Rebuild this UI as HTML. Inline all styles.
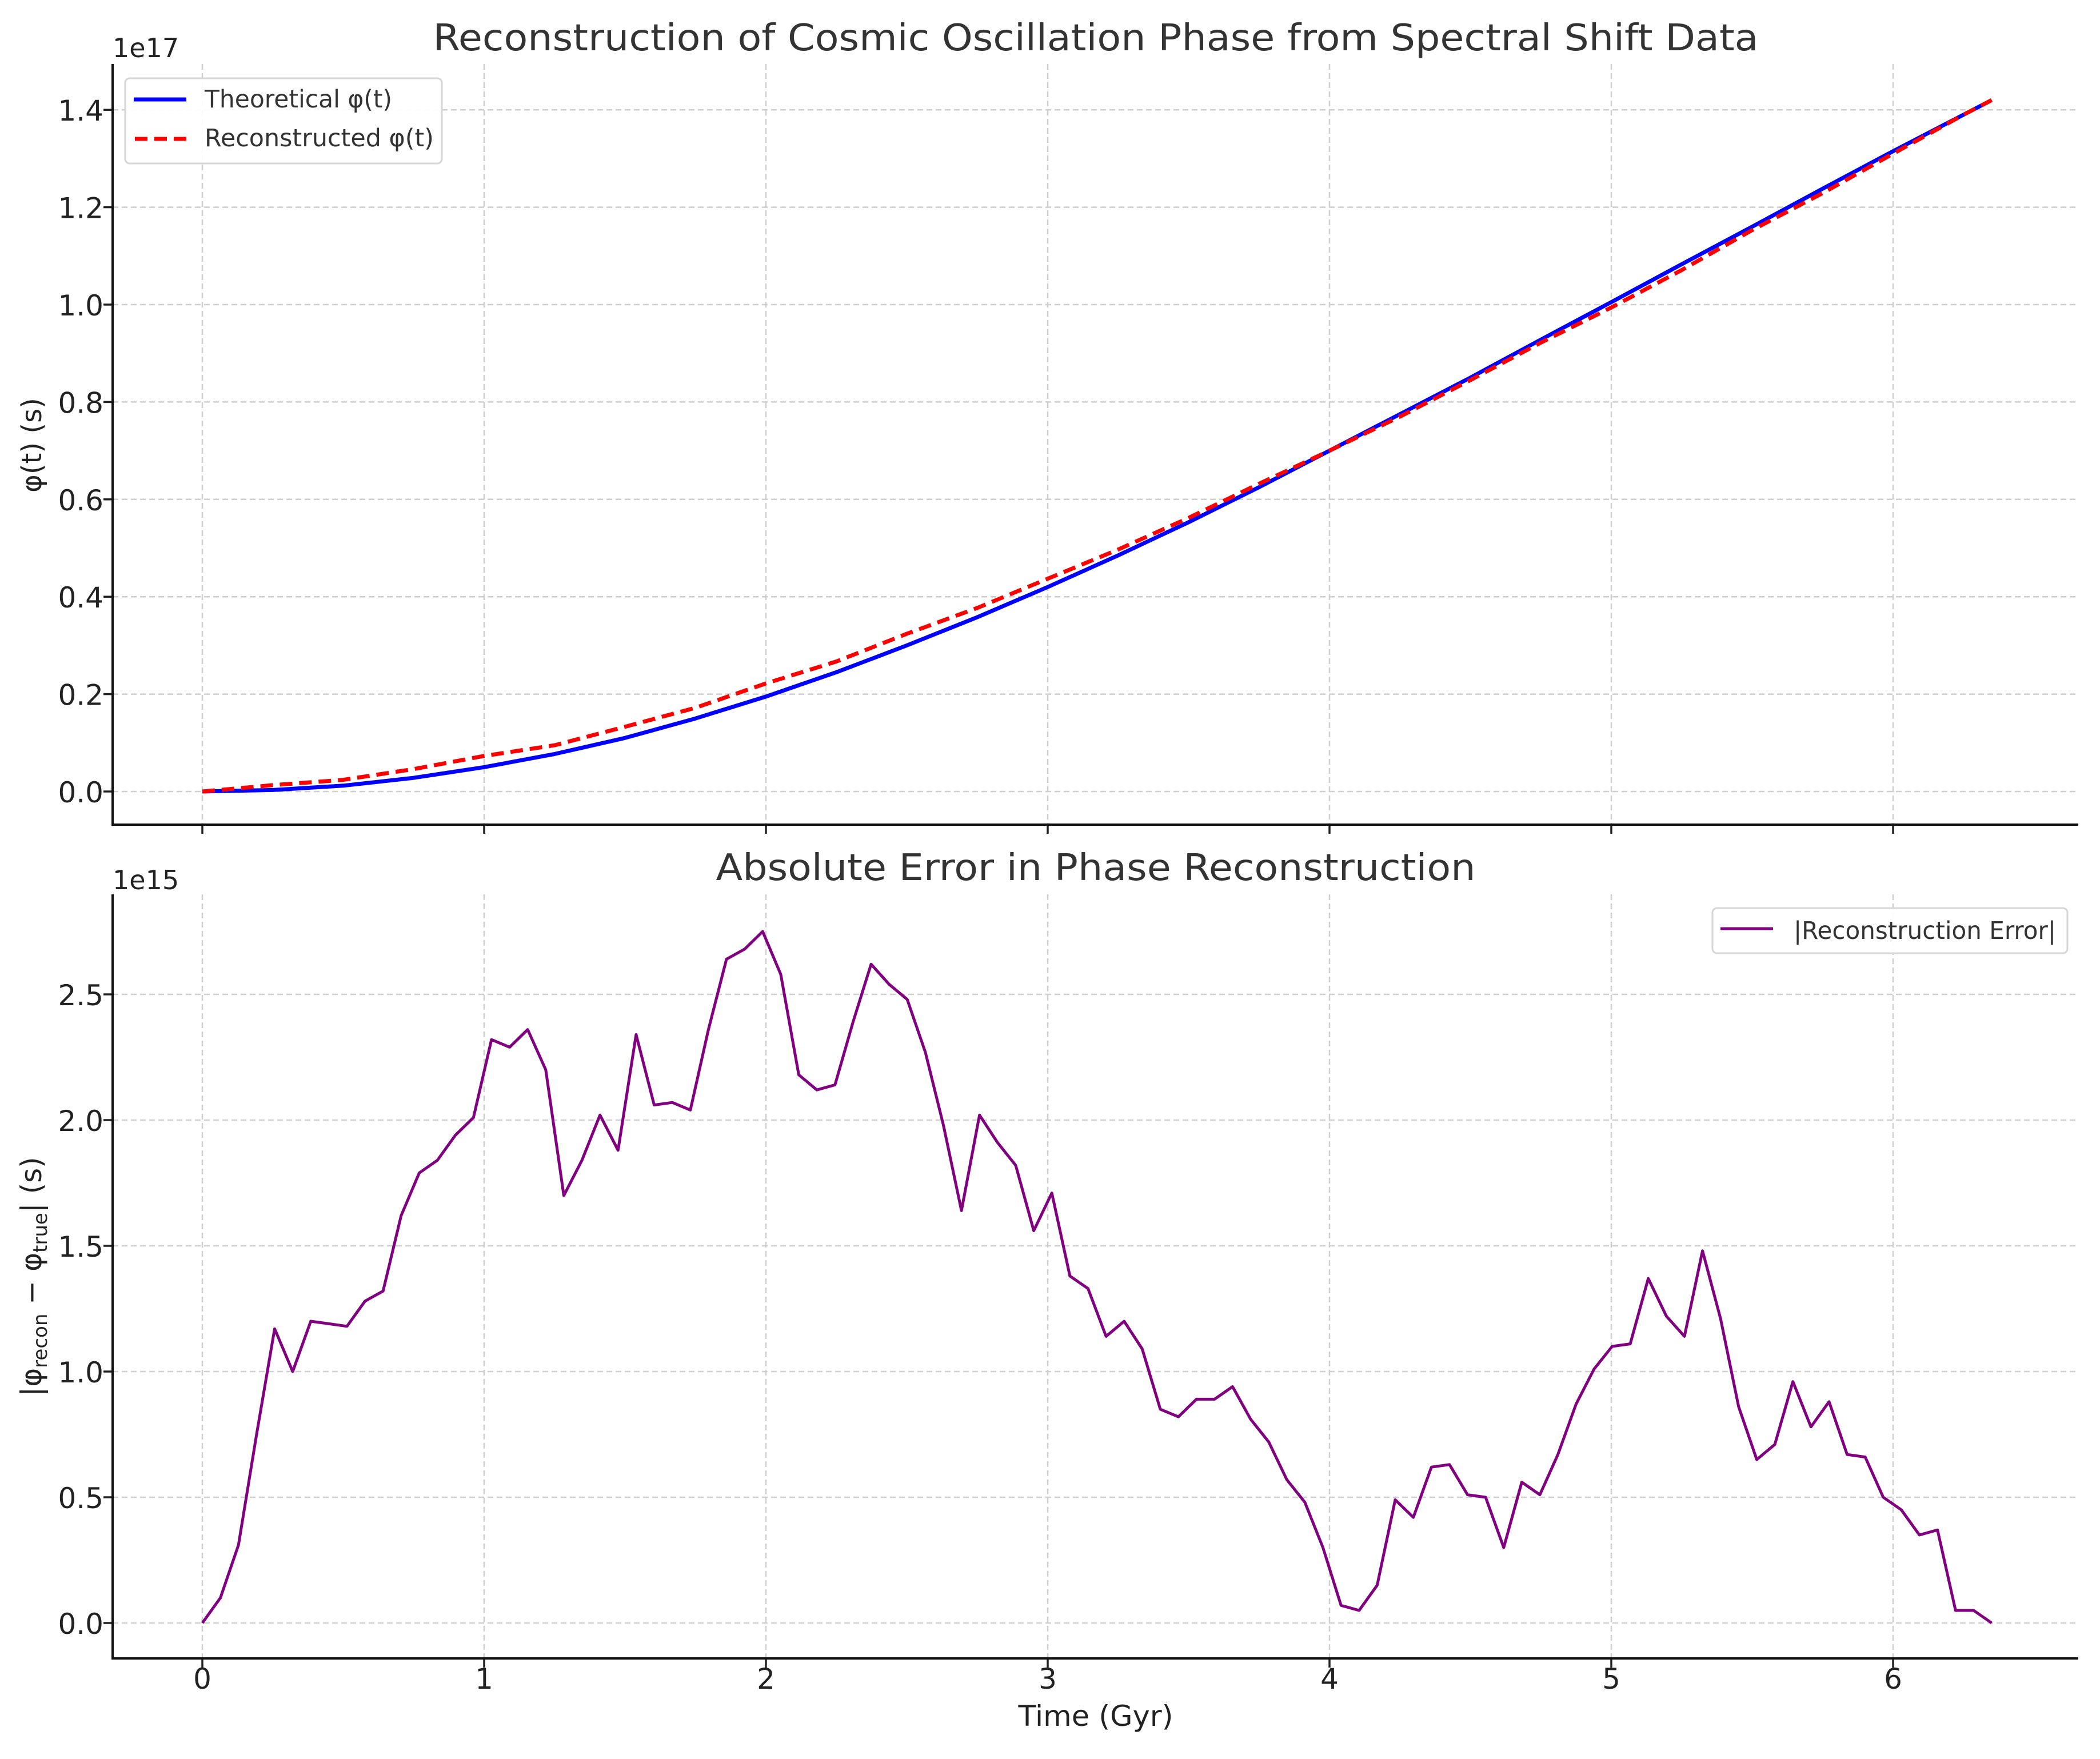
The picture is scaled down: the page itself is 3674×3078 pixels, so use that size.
<!DOCTYPE html>
<html><head><meta charset="utf-8"><style>
html,body{margin:0;padding:0;background:#fff}
svg{display:block}
text{font-family:"DejaVu Sans","Liberation Sans",sans-serif}
</style></head><body>
<svg id="chart" width="3674" height="3078" viewBox="0 0 3674 3078" xmlns="http://www.w3.org/2000/svg">
<rect width="3674" height="3078" fill="#fff"/>
<g id="top"></g>
<g id="bot"></g>
</svg>
<script>
// ---- data ----
const topTimes = [0,0.25,0.5,0.75,1,1.25,1.5,1.75,2,2.25,2.5,2.75,3,3.25,3.5,3.75,4,4.25,4.5,4.75,5,5.25,5.5,5.75,6,6.25,6.35];
const theoretical = [0,0.003,0.012,0.028,0.05,0.077,0.11,0.15,0.195,0.245,0.3,0.358,0.42,0.485,0.553,0.625,0.70,0.775,0.85,0.928,1.005,1.083,1.16,1.238,1.315,1.39,1.42];
const reconstructed = [0,0.013,0.024,0.046,0.073,0.095,0.133,0.172,0.222,0.267,0.324,0.377,0.437,0.497,0.562,0.632,0.70,0.770,0.845,0.922,0.994,1.071,1.153,1.229,1.310,1.39,1.42];
const errorValues = [0,0.10,0.31,0.75,1.17,1.00,1.20,1.19,1.18,1.28,1.32,1.62,1.79,1.84,1.94,2.01,2.32,2.29,2.36,2.20,1.70,1.84,2.02,1.88,2.34,2.06,2.07,2.04,2.36,2.64,2.68,2.75,2.58,2.18,2.12,2.14,2.39,2.62,2.54,2.48,2.27,1.98,1.64,2.02,1.91,1.82,1.56,1.71,1.38,1.33,1.14,1.20,1.09,0.85,0.82,0.89,0.89,0.94,0.81,0.72,0.57,0.48,0.30,0.07,0.05,0.15,0.49,0.42,0.62,0.63,0.51,0.50,0.30,0.56,0.51,0.67,0.87,1.01,1.10,1.11,1.37,1.22,1.14,1.48,1.21,0.86,0.65,0.71,0.96,0.78,0.88,0.67,0.66,0.50,0.45,0.35,0.37,0.05,0.05,0];
const tEnd = 6.35;
const xTicks = [0,1,2,3,4,5,6];
const topYTicks = [0.0,0.2,0.4,0.6,0.8,1.0,1.2,1.4];
const botYTicks = [0.0,0.5,1.0,1.5,2.0,2.5];

const NS = "http://www.w3.org/2000/svg";
function mk(parent, tag, attrs, txt){
  const e = document.createElementNS(NS, tag);
  for (const k in attrs) e.setAttribute(k, attrs[k]);
  if (txt !== undefined) e.textContent = txt;
  parent.appendChild(e);
  return e;
}
const L = 197, R = 3636;
const xs = t => 354 + t * 493;
const yTop = v => 1385 - v * 852;
const yBot = v => 2840 - v * 440;
const errTimes = errorValues.map((_, i) => i * tEnd / (errorValues.length - 1));

function panel(g, yScale, yTicks, top, bottom, showXLabels){
  // grid
  xTicks.forEach(t => {
    const l = mk(g, 'line', {x1:xs(t), x2:xs(t), y1:top, y2:bottom, stroke:'#cfcfcf', 'stroke-width':2.5, 'stroke-dasharray':'10 6'});
    
    
  });
  yTicks.forEach(v => {
    const l = mk(g, 'line', {x1:L, x2:R, y1:yScale(v), y2:yScale(v), stroke:'#cfcfcf', 'stroke-width':2.5, 'stroke-dasharray':'10 6'});
    
    
    const tk = mk(g, 'line', {x1:L-16, x2:L, y1:yScale(v), y2:yScale(v), stroke:'#222', 'stroke-width':3.5});
    
    
    const tx = mk(g, 'text', {x:181, y:yScale(v)+19, 'text-anchor':'end', 'font-size':50, fill:'#222'}, v.toFixed(1));
    
    
  });
  xTicks.forEach(t => {
    const tk = mk(g, 'line', {x1:xs(t), x2:xs(t), y1:bottom, y2:bottom+16, stroke:'#222', 'stroke-width':3.5});
    
    
    if (showXLabels){
      const tx = mk(g, 'text', {x:xs(t), y:2955, 'text-anchor':'middle', 'font-size':50, fill:'#222'}, String(t));
      
      
    }
  });
  const ax = mk(g, 'path', {d:`M${L},${top} V${bottom} H${R}`, fill:'none', stroke:'#111', 'stroke-width':4});
  
  
}
function poly(g, ts, vs, yScale, attrs, name){
  const d = ts.map((t,i) => (i? 'L':'M') + xs(t).toFixed(1) + ',' + yScale(vs[i]).toFixed(1)).join(' ');
  const p = mk(g, 'path', Object.assign({d, fill:'none', 'stroke-linejoin':'round'}, attrs));
  
  
}

// top panel
const gt = document.getElementById('top');
panel(gt, yTop, topYTicks, 112, 1443, false);
poly(gt, topTimes, theoretical, yTop, {stroke:'#0000ff', 'stroke-width':7}, 'theoretical-line');
poly(gt, topTimes, reconstructed, yTop, {stroke:'#ff0000', 'stroke-width':7, 'stroke-dasharray':'22 12'}, 'reconstructed-line');
let t;
t = mk(gt, 'text', {x:1917, y:88, 'text-anchor':'middle', 'font-size':64, fill:'#333', textLength:2319, lengthAdjust:'spacingAndGlyphs'}, 'Reconstruction of Cosmic Oscillation Phase from Spectral Shift Data');
 
t = mk(gt, 'text', {x:197, y:100, 'font-size':46, fill:'#222'}, '1e17');
 
t = mk(gt, 'text', {x:0, y:0, 'text-anchor':'middle', 'font-size':48, fill:'#222', transform:'translate(72,779) rotate(-90)'}, 'φ(t) (s)');
 
// top legend
const lg = mk(gt, 'g', {});
 
mk(lg, 'rect', {x:219, y:137, width:554, height:149, rx:8, fill:'#fff', 'fill-opacity':0.9, stroke:'#d6d6d6', 'stroke-width':3});
mk(lg, 'line', {x1:234, x2:326, y1:174, y2:174, stroke:'#0000ff', 'stroke-width':7});
mk(lg, 'line', {x1:236, x2:326, y1:243, y2:243, stroke:'#ff0000', 'stroke-width':7, 'stroke-dasharray':'22 12'});
t = mk(lg, 'text', {x:358, y:188, 'font-size':43, fill:'#333', textLength:328, lengthAdjust:'spacingAndGlyphs'}, 'Theoretical φ(t)');
 
t = mk(lg, 'text', {x:358, y:256, 'font-size':43, fill:'#333', textLength:401, lengthAdjust:'spacingAndGlyphs'}, 'Reconstructed φ(t)');
 

// bottom panel
const gb = document.getElementById('bot');
panel(gb, yBot, botYTicks, 1565, 2902, true);
poly(gb, errTimes, errorValues, yBot, {stroke:'#800080', 'stroke-width':5}, 'error-line');
t = mk(gb, 'text', {x:1917, y:1540, 'text-anchor':'middle', 'font-size':64, fill:'#333', textLength:1329, lengthAdjust:'spacingAndGlyphs'}, 'Absolute Error in Phase Reconstruction');
 
t = mk(gb, 'text', {x:197, y:1556, 'font-size':46, fill:'#222'}, '1e15');
 
t = mk(gb, 'text', {x:0, y:0, 'text-anchor':'middle', 'font-size':50, fill:'#222', transform:'translate(72,2234) rotate(-90)'});
 
t.innerHTML = '|φ<tspan font-size="34" dy="10">recon</tspan><tspan dy="-10"> − φ</tspan><tspan font-size="34" dy="10">true</tspan><tspan dy="-10">| (s)</tspan>';
t = mk(gb, 'text', {x:1917, y:3020, 'text-anchor':'middle', 'font-size':50, fill:'#222', textLength:271, lengthAdjust:'spacingAndGlyphs'}, 'Time (Gyr)');
 
const lb = mk(gb, 'g', {});
 
mk(lb, 'rect', {x:2996, y:1589, width:621, height:79, rx:8, fill:'#fff', 'fill-opacity':0.9, stroke:'#d6d6d6', 'stroke-width':3});
mk(lb, 'line', {x1:3010, x2:3102, y1:1625, y2:1625, stroke:'#800080', 'stroke-width':5});
t = mk(lb, 'text', {x:3138, y:1643, 'font-size':43, fill:'#333', textLength:459, lengthAdjust:'spacingAndGlyphs'}, '|Reconstruction Error|');
 
</script>
</body></html>
